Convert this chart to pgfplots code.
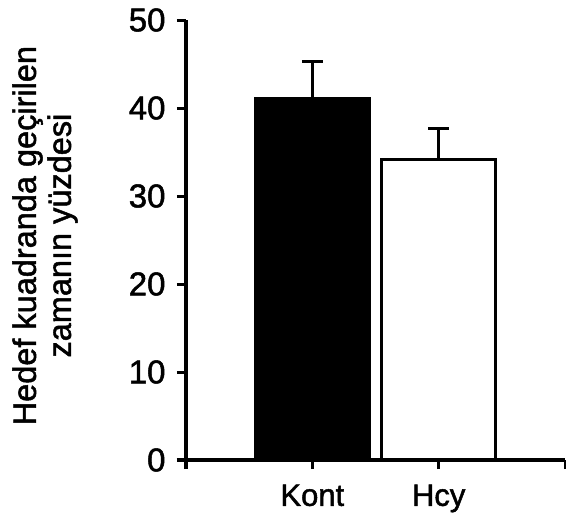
\documentclass[border=0pt]{standalone}
\usepackage{pgfplots}
\pgfplotsset{compat=1.18}
\usepackage{fontspec}
\setmainfont{Liberation Sans}[FakeBold=1.5]
\begin{document}
\begin{tikzpicture}
\useasboundingbox (0,0) rectangle (566bp,525bp);
\begin{axis}[
  at={(186bp,65bp)}, anchor=south west,
  scale only axis, width=379bp, height=440bp,
  xmin=0, xmax=3, ymin=0, ymax=50,
  axis lines=left,
  axis line style={line width=3bp, -},
  x axis line style={shorten <=-9bp},
  xtick={0,1,2,3}, xticklabels={,Kont,Hcy,},
  ytick={0,10,20,30,40,50},
  tick align=outside,
  major tick length=9bp,
  every tick/.style={line width=3bp, black},
  y tick label style={font=\fontsize{33bp}{36bp}\selectfont, xshift=-8bp},
  x tick label style={font=\fontsize{31bp}{34bp}\selectfont, yshift=-12bp},
  xticklabel={\scalebox{1.08}[1]{\tick}},
  xticklabels={,Kont,Hcy,},
  /pgf/number format/assume math mode=true,
  ylabel={Hedef kuadranda geçirilen\\zamanın yüzdesi},
  ylabel style={at={(axis description cs:-0.372,0.51)}, anchor=center, align=center, font=\fontsize{32.5bp}{35bp}\selectfont},
  clip=false,
]
\addplot[ybar, bar width=0.9, bar shift=0, fill=black, draw=black, line width=3bp,
  error bars/.cd, y dir=plus, y explicit,
  error bar style={line width=3bp, black},
  error mark options={rotate=90, line width=3bp, mark size=10.5bp, black}]
  coordinates {(1,41.1) +- (0,4.2)};
\addplot[ybar, bar width=0.9, bar shift=0, fill=white, draw=black, line width=3bp,
  error bars/.cd, y dir=plus, y explicit,
  error bar style={line width=3bp, black},
  error mark options={rotate=90, line width=3bp, mark size=10.5bp, black}]
  coordinates {(2,34.15) +- (0,3.55)};
\end{axis}
\end{tikzpicture}
\end{document}
